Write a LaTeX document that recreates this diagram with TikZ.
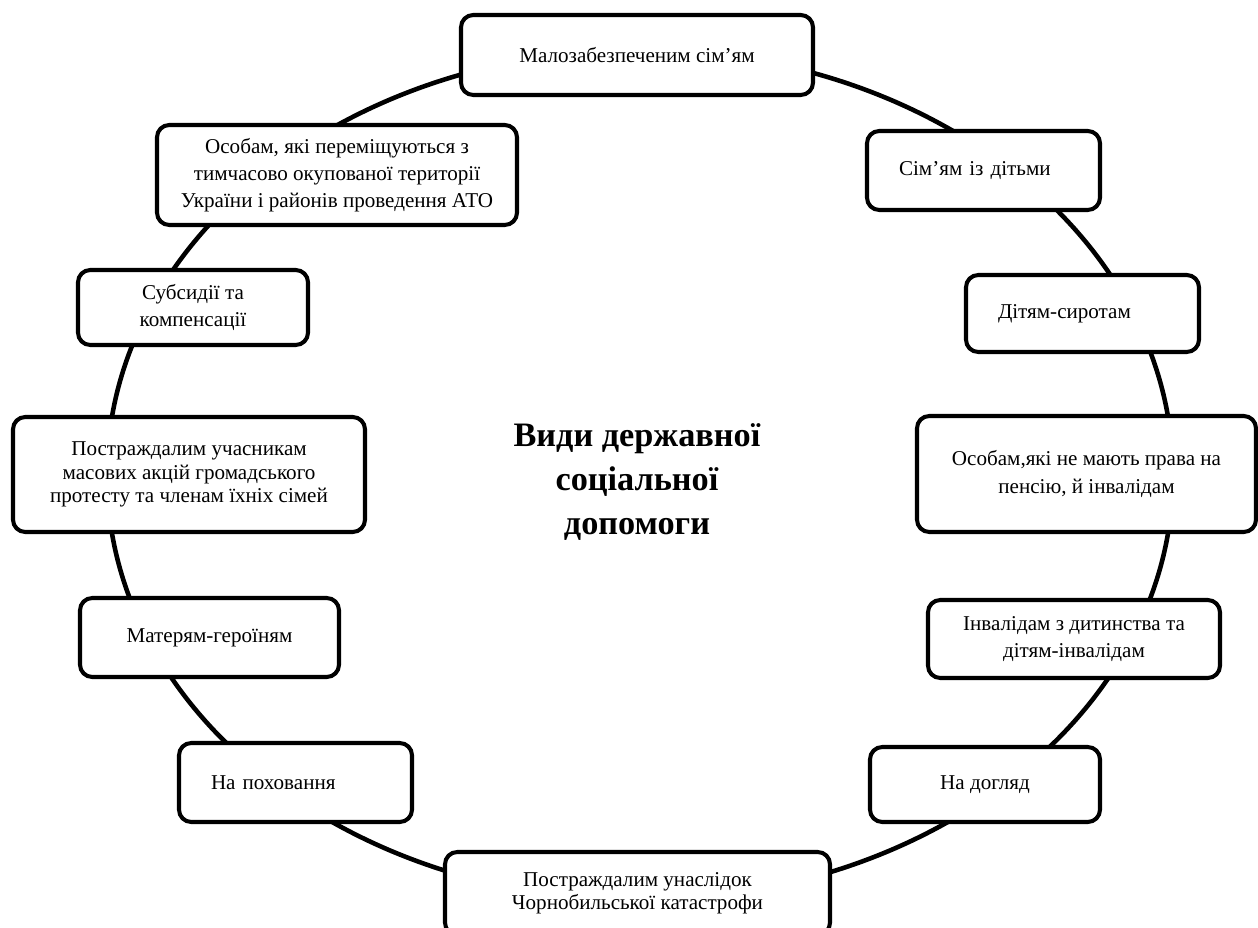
\documentclass[tikz,border=0pt]{standalone}
\usepackage{fontspec}
\setmainfont{Liberation Serif}
\usetikzlibrary{shapes.geometric}

\begin{document}
\begin{tikzpicture}[scale=0.2]
\tikzstyle{every node}+=[inner sep=0pt]
\tikzstyle{box}=[draw=black, line width=2.3pt, rounded corners=7pt, fill=white, align=center, font=\fontsize{12}{15.5}\selectfont]
\tikzstyle{tightbox}=[box, font=\fontsize{12}{13.3}\selectfont]
\tikzstyle{leftbox}=[box, align=left, inner xsep=0.64cm]
\useasboundingbox (0,0) rectangle (125.8,-92.8);
\node (ring) [ellipse, draw=black, line width=2.6pt, minimum width=21.32cm, minimum height=17cm] at (64,-47.5) {};
\node (title) [align=center, font=\fontsize{19.5}{25}\selectfont\bfseries] at (63.7,-48.2) {Види державної\\соціальної\\допомоги};
\node (mal) [box, minimum width=7.04cm, minimum height=1.6cm] at (63.7,-5.5) {Малозабезпеченим сім’ям};
\node (sim) [leftbox, text width=3.38cm, minimum height=1.58cm] at (98.35,-17.05) {Сім’ям із дітьми};
\node (dit) [leftbox, text width=3.38cm, minimum height=1.54cm] at (108.25,-31.35) {Дітям-сиротам};
\node (osob) [box, minimum width=6.78cm, minimum height=2.32cm] at (108.65,-47.4) {Особам,які не мають права на\\пенсію, й інвалідам};
\node (inval) [box, minimum width=5.84cm, minimum height=1.56cm] at (107.4,-63.9) {Інвалідам з дитинства та\\дітям-інвалідам};
\node (dogl) [box, minimum width=4.6cm, minimum height=1.5cm] at (98.5,-78.45) {На догляд};
\node (chorn) [tightbox, minimum width=7.7cm, minimum height=1.66cm] at (63.75,-89.35) {Постраждалим унаслідок\\Чорнобильської катастрофи};
\node (pokh) [leftbox, text width=3.38cm, minimum height=1.58cm] at (29.55,-78.25) {На поховання};
\node (mater) [box, minimum width=5.18cm, minimum height=1.58cm] at (20.95,-63.75) {Матерям-героїням};
\node (poter) [tightbox, minimum width=7.04cm, minimum height=2.3cm] at (18.9,-47.45) {Постраждалим учасникам\\масових акцій громадського\\протесту та членам їхніх сімей};
\node (subs) [box, minimum width=4.6cm, minimum height=1.5cm] at (19.3,-30.75) {Субсидії та\\компенсації};
\node (perem) [box, minimum width=7.2cm, minimum height=2.0cm] at (33.7,-17.5) {Особам, які переміщуються з\\тимчасово окупованої території\\України і районів проведення АТО};
\end{tikzpicture}
\end{document}
